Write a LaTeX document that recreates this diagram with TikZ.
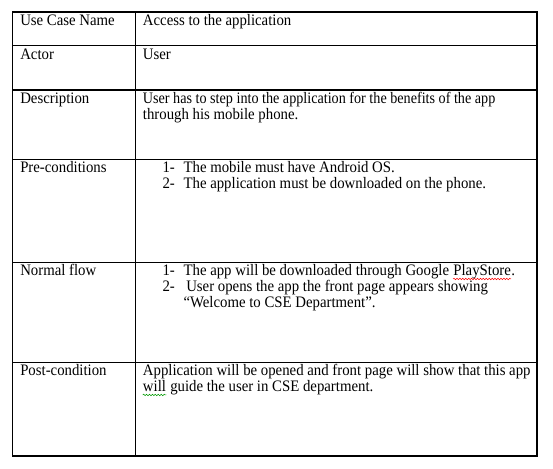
\documentclass[tikz,border=0pt]{standalone}
\usepackage{fontspec}
\setmainfont{Liberation Serif}[FakeStretch=0.925]
\newfontfamily\condserif{Liberation Serif}[FakeStretch=0.885]
\usetikzlibrary{decorations.pathmorphing}
\begin{document}
\begin{tikzpicture}[x=0.75pt,y=-0.75pt,
  txt/.style={inner sep=0pt, anchor=base west, font=\fontsize{12pt}{16pt}\selectfont},
  grid/.style={line width=0.9pt, black},
  squig/.style={decorate, decoration={snake, amplitude=0.55pt, segment length=2.2pt}, line width=0.4pt}]
\useasboundingbox (0,0) rectangle (553,468);
% table lines
\coordinate (tl) at (12.7,12);
\coordinate (br) at (537,456);
\draw[grid] (tl) rectangle (br);
\coordinate (c1) at (135.7,12);
\coordinate (c2) at (135.7,456);
\draw[grid] (c1) -- (c2);
\foreach \yy/\nm in {45.7/a,90/b,159.3/c,262.7/d,362.7/e}{
  \coordinate (l\nm) at (12.7,\yy);
  \coordinate (r\nm) at (537,\yy);
  \draw[grid] (l\nm) -- (r\nm);
}
% left column
\node[txt] (k1) at (20,25) {Use Case Name};
\node[txt] (k2) at (20,59) {Actor};
\node[txt] (k3) at (20,103.5) {Description};
\node[txt] (k4) at (20,172) {Pre-conditions};
\node[txt] (k5) at (20,275.5) {Normal flow};
\node[txt] (k6) at (20,375.5) {Post-condition};
% right column
\node[txt] (v1) at (142.7,25) {Access to the application};
\node[txt] (v2) at (142.7,59) {User};
\node[txt] (v3a) at (142.7,103.5) {\condserif User has to step into the application for the benefits of the app};
\node[txt] (v3b) at (142.7,119.5) {through his mobile phone.};
\node[txt] (p1n) at (162.3,172) {1-};
\node[txt] (p1) at (183.3,172) {The mobile must have Android OS.};
\node[txt] (p2n) at (162.3,188) {2-};
\node[txt] (p2) at (183.3,188) {The application must be downloaded on the phone.};
\node[txt] (n1n) at (162.3,275.5) {1-};
\node[txt] (n1) at (183.3,275.5) {The app will be downloaded through Google};
\node[txt, xshift=2.8pt] (n1ps) at (n1.base east) {PlayStore};
\node[txt] (n1dot) at (n1ps.base east) {.};
\node[txt] (n2n) at (162.3,291.5) {2-};
\node[txt] (n2) at (186,291.5) {User opens the app the front page appears showing};
\node[txt] (n3) at (183.3,307.5) {“Welcome to CSE Department”.};
\node[txt] (s1) at (142.7,375.5) {Application will be opened and front page will show that this app};
\node[txt] (s2w) at (142.7,391.5) {will};
\node[txt, xshift=2.8pt] (s2) at (s2w.base east) {guide the user in CSE department.};
% spell-check squiggles
\draw[squig, red] ([yshift=-2.6pt]n1ps.base west) -- ([yshift=-2.6pt]n1ps.base east);
\draw[squig, green!60!black] ([yshift=-2.6pt]s2w.base west) -- ([yshift=-2.6pt]s2w.base east);
\end{tikzpicture}
\end{document}
